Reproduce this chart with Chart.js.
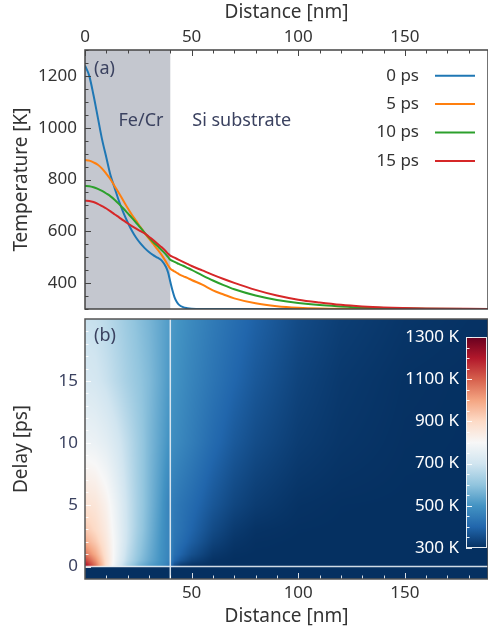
<!DOCTYPE html>
<html>
<head>
<meta charset="utf-8">
<title>Fe/Cr on Si - temperature</title>
<script src="https://cdn.jsdelivr.net/npm/chart.js@4.4.1/dist/chart.umd.min.js"></script>
<style>
  body { margin: 0; background: #fff; }
  #fig { position: relative; width: 488px; height: 635px; overflow: hidden; }
  #fig canvas { position: absolute; }
</style>
</head>
<body>
<div id="fig">
  <canvas id="profiles" width="488" height="312" style="left:0;top:0"></canvas>
  <canvas id="map" width="488" height="323" style="left:0;top:312px"></canvas>
  <canvas id="cbar" width="93" height="235" style="left:395px;top:325px"></canvas>
</div>
<script>
// ---- data ----
// (a) temperature profiles, distance in nm, temperature in K
const distance = [0, 2, 4, 6, 8, 10, 12, 14, 16, 18, 20, 22, 24, 26, 28, 30, 32, 34, 36, 38, 39,
  40, 41, 42, 43, 44, 46, 48, 50, 55, 60, 65, 70, 80, 90, 100, 110, 120, 130, 140, 160, 189];
const temp0ps = [1240, 1200, 1125, 1040, 955, 885, 815, 765, 715, 672, 635, 602, 575, 553, 535, 520, 508, 498, 487, 462, 440,
  405, 372, 345, 328, 317, 307, 303, 301, 300, 300, 300, 300, 300, 300, 300, 300, 300, 300, 300, 300, 300];
const temp5ps = [875, 873, 866, 857, 842, 822, 800, 773, 746, 718, 690, 664, 640, 616, 593, 572, 551, 530, 508, 482, 468,
  456, 450, 445, 440, 435, 427, 420, 412, 394, 372, 356, 341, 322, 311, 305, 302, 301, 300, 300, 300, 300];
const temp10ps = [775, 774, 770, 764, 756, 746, 735, 721, 705, 688, 670, 652, 633, 614, 594, 576, 559, 543, 527, 510, 500,
  490, 486, 482, 478, 474, 467, 459, 451, 430, 410, 392, 376, 352, 335, 323, 315, 310, 306, 304, 301, 300];
const temp15ps = [718, 717, 713, 706, 697, 688, 677, 665, 654, 642, 631, 620, 610, 601, 592, 579, 566, 552, 538, 522, 513,
  506, 502, 498, 494, 490, 482, 474, 466, 449, 432, 416, 401, 374, 352, 336, 325, 316, 310, 306, 302, 300];
const delayLabels = ['0 ps', '5 ps', '10 ps', '15 ps'];
const lineColors = ['#1f77b4', '#ff7f0e', '#2ca02c', '#d62728'];

// (b) temperature map, rows = delay (ps), columns = distance (nm)
const hmDist = [0, 5, 10, 15, 20, 25, 30, 35, 38, 40, 42, 45, 50, 60, 70, 80, 100, 120, 150, 189];
const hmDelay = [-1, -0.01, 0, 0.5, 1, 2, 3, 5, 10, 15, 20];
const heatBefore = [300, 300, 300, 300, 300, 300, 300, 300, 300, 300, 300, 300, 300, 300, 300, 300, 300, 300, 300, 300];
const heat0 = [1240, 1080, 885, 740, 635, 563, 520, 493, 466, 420, 347, 311, 301, 300, 300, 300, 300, 300, 300, 300];
const heat05 = [1150, 1030, 880, 760, 665, 595, 545, 503, 475, 458, 400, 370, 335, 305, 300, 300, 300, 300, 300, 300];
const heat1 = [1070, 985, 870, 768, 675, 605, 552, 505, 477, 462, 420, 395, 360, 315, 302, 300, 300, 300, 300, 300];
const heat2 = [985, 930, 855, 772, 688, 615, 560, 508, 478, 463, 432, 415, 385, 335, 310, 302, 300, 300, 300, 300];
const heat3 = [935, 895, 842, 768, 692, 624, 566, 512, 479, 462, 438, 425, 398, 350, 320, 306, 301, 300, 300, 300];
const heat5 = [875, 862, 822, 760, 690, 628, 572, 519, 482, 456, 445, 431, 412, 372, 341, 322, 305, 301, 300, 300];
const heat10 = [775, 766, 746, 713, 670, 623, 576, 535, 510, 490, 482, 471, 451, 410, 376, 352, 323, 310, 302, 300];
const heat15 = [718, 709, 688, 660, 631, 605, 579, 545, 522, 506, 498, 486, 466, 432, 401, 374, 336, 316, 304, 300];
const heat20 = [688, 682, 664, 640, 614, 590, 568, 542, 526, 514, 507, 497, 478, 446, 418, 392, 350, 326, 310, 303];
const heatRows = [heatBefore, heatBefore, heat0, heat05, heat1, heat2, heat3, heat5, heat10, heat15, heat20];

// ticks
const distTicks = [0, 50, 100, 150];
const tempTicks = [400, 600, 800, 1000, 1200];
const delayTicks = [0, 5, 10, 15];
const cbarTicks = [300, 500, 700, 900, 1100, 1300];

const filmEdge = 40;      // Fe/Cr | Si interface (nm)
const pumpDelay = 0;      // pump arrival (ps)

// RdBu_r
const rdbuR = ['#053061', '#2166ac', '#4393c3', '#92c5de', '#d1e5f0', '#f7f7f7',
  '#fddbc7', '#f4a582', '#d6604d', '#b2182b', '#67001f'];
const rdbuRgb = rdbuR.map(h => [1, 3, 5].map(i => parseInt(h.substr(i, 2), 16)));

Chart.defaults.font.family = "'Noto Sans', sans-serif";
Chart.defaults.color = '#333';
const inkDark = '#333';
const inkSlate = '#3b4260';

function range(from, to, step) {
  const out = [];
  for (let v = from; v <= to + 1e-9; v += step) out.push(Math.round(v * 1000) / 1000);
  return out;
}

// keep the plot area exactly where the axis boxes say (no label overflow padding)
function noOverflow(s) {
  s.paddingTop = 0; s.paddingBottom = 0; s.paddingLeft = 0; s.paddingRight = 0;
}

function drawTicks(chart, scale, edge, values, majors, color) {
  const a = chart.chartArea, ctx = chart.ctx;
  ctx.save();
  ctx.strokeStyle = color;
  ctx.lineWidth = 1;
  values.forEach(v => {
    const p = Math.round(scale.getPixelForValue(v)) + 0.5;
    const len = majors.includes(v) ? 6 : 3.5;
    ctx.beginPath();
    if (edge === 'top') { ctx.moveTo(p, a.top); ctx.lineTo(p, a.top + len); }
    if (edge === 'bottom') { ctx.moveTo(p, a.bottom); ctx.lineTo(p, a.bottom - len); }
    if (edge === 'left') { ctx.moveTo(a.left, p); ctx.lineTo(a.left + len, p); }
    ctx.stroke();
  });
  ctx.restore();
}

function frame(chart, color) {
  const a = chart.chartArea, ctx = chart.ctx;
  ctx.save();
  ctx.strokeStyle = color;
  ctx.lineWidth = 1.5;
  ctx.strokeRect(a.left, a.top, a.right - a.left, a.bottom - a.top);
  ctx.restore();
}

function locate(arr, v) {
  if (v <= arr[0]) return [0, 0];
  const n = arr.length;
  if (v >= arr[n - 1]) return [n - 2, 1];
  let k = 0;
  while (arr[k + 1] < v) k++;
  return [k, (v - arr[k]) / (arr[k + 1] - arr[k])];
}

function colourOf(T) {
  let f = Math.min(Math.max((T - 300) / 1000, 0), 1) * 10;
  const k = Math.min(Math.floor(f), 9);
  f -= k;
  const c0 = rdbuRgb[k], c1 = rdbuRgb[k + 1];
  return [0, 1, 2].map(i => c0[i] + (c1[i] - c0[i]) * f);
}

// ---------- (a) profiles ----------
const profileDecor = {
  id: 'profileDecor',
  beforeDatasetsDraw(chart) {
    const {ctx, chartArea: a, scales: {x}} = chart;
    ctx.save();
    ctx.fillStyle = '#c4c7cf';
    const x0 = x.getPixelForValue(0), x1 = x.getPixelForValue(filmEdge);
    ctx.fillRect(x0, a.top, x1 - x0, a.bottom - a.top);
    ctx.restore();
  },
  afterDatasetsDraw(chart) {
    const {ctx, chartArea: a, scales: {x, y}} = chart;
    frame(chart, '#444');
    drawTicks(chart, x, 'top', range(0, 180, 10), distTicks, '#444');
    drawTicks(chart, y, 'left', range(300, 1300, 50), tempTicks, '#444');

    ctx.save();
    ctx.fillStyle = inkSlate;
    ctx.font = "18px 'Noto Sans'";
    ctx.textBaseline = 'middle';
    ctx.textAlign = 'left';
    ctx.fillText('(a)', a.left + 9, a.top + 19);
    ctx.textAlign = 'center';
    ctx.fillText('Fe/Cr', a.left + 56, a.top + 71);
    ctx.textAlign = 'left';
    ctx.fillText('Si substrate', x.getPixelForValue(filmEdge) + 22, a.top + 71);

    // legend: label on the left, line sample on the right
    ctx.font = "17px 'Noto Sans'";
    ctx.textAlign = 'right';
    chart.data.datasets.forEach((ds, i) => {
      const yy = a.top + 25.7 + i * 28.4;
      ctx.fillStyle = inkDark;
      ctx.fillText(ds.label, a.right - 69, yy);
      ctx.strokeStyle = ds.borderColor;
      ctx.lineWidth = 2;
      ctx.beginPath();
      ctx.moveTo(a.right - 53, yy);
      ctx.lineTo(a.right - 13, yy);
      ctx.stroke();
    });
    ctx.restore();
  }
};

const profiles = [temp0ps, temp5ps, temp10ps, temp15ps];

new Chart(document.getElementById('profiles'), {
  type: 'line',
  data: {
    datasets: profiles.map((temps, i) => ({
      label: delayLabels[i],
      data: distance.map((d, j) => ({x: d, y: temps[j]})),
      borderColor: lineColors[i],
      borderWidth: 2,
      pointRadius: 0,
      cubicInterpolationMode: 'monotone',
      order: profiles.length - i
    }))
  },
  options: {
    responsive: false,
    animation: false,
    events: [],
    layout: {padding: {left: 0, right: 0, top: 0, bottom: 3}},
    plugins: {legend: {display: false}, tooltip: {enabled: false}},
    scales: {
      x: {
        type: 'linear', position: 'top', min: 0, max: 189,
        afterBuildTicks: s => { s.ticks = distTicks.map(v => ({value: v})); },
        ticks: {color: inkDark, font: {size: 17}, padding: 3, callback: v => String(v)},
        grid: {display: false, drawTicks: false},
        border: {display: false},
        title: {display: true, text: 'Distance [nm]', color: inkDark, font: {size: 19}, padding: {top: 1, bottom: 0}},
        afterFit: s => { s.height = 50; noOverflow(s); }
      },
      y: {
        type: 'linear', min: 300, max: 1300,
        afterBuildTicks: s => { s.ticks = tempTicks.map(v => ({value: v})); },
        ticks: {color: inkDark, font: {size: 17}, padding: 8, callback: v => String(v)},
        grid: {display: false, drawTicks: false},
        border: {display: false},
        title: {display: true, text: 'Temperature [K]', color: inkDark, font: {size: 19}, padding: {top: 10, bottom: 0}},
        afterFit: s => { s.width = 85; noOverflow(s); }
      }
    }
  },
  plugins: [profileDecor]
});

// ---------- (b) map ----------
const heatmap = {
  id: 'heatmap',
  beforeDatasetsDraw(chart) {
    const {ctx, chartArea: a, scales: {x, y}} = chart;
    const w = Math.round(a.right - a.left), h = Math.round(a.bottom - a.top);
    const img = ctx.createImageData(w, h);
    const cols = [];
    for (let i = 0; i < w; i++) cols.push(locate(hmDist, x.getValueForPixel(a.left + i + 0.5)));
    for (let j = 0; j < h; j++) {
      const [r, fr] = locate(hmDelay, y.getValueForPixel(a.top + j + 0.5));
      const lo = heatRows[r], hi = heatRows[r + 1];
      for (let i = 0; i < w; i++) {
        const [c, fc] = cols[i];
        const tLo = lo[c] + (lo[c + 1] - lo[c]) * fc;
        const tHi = hi[c] + (hi[c + 1] - hi[c]) * fc;
        const rgb = colourOf(tLo + (tHi - tLo) * fr);
        const o = (j * w + i) * 4;
        img.data[o] = rgb[0]; img.data[o + 1] = rgb[1]; img.data[o + 2] = rgb[2]; img.data[o + 3] = 255;
      }
    }
    const off = document.createElement('canvas');
    off.width = w; off.height = h;
    off.getContext('2d').putImageData(img, 0, 0);
    ctx.drawImage(off, a.left, a.top);
  },
  afterDatasetsDraw(chart) {
    const {ctx, chartArea: a, scales: {x, y}} = chart;
    drawTicks(chart, x, 'bottom', range(10, 180, 10), distTicks, 'rgba(255,255,255,0.85)');
    drawTicks(chart, y, 'left', range(0, 19, 1), delayTicks, 'rgba(255,255,255,0.85)');
    frame(chart, '#555');
    ctx.save();
    ctx.fillStyle = inkSlate;
    ctx.font = "18px 'Noto Sans'";
    ctx.textBaseline = 'middle';
    ctx.fillText('(b)', a.left + 9, a.top + 17);
    ctx.restore();
  }
};

const guideStyle = {borderColor: 'rgba(232,238,244,0.9)', borderWidth: 1.5, pointRadius: 0};

new Chart(document.getElementById('map'), {
  type: 'line',
  data: {
    datasets: [
      {data: [{x: filmEdge, y: -1}, {x: filmEdge, y: 20}], ...guideStyle},
      {data: [{x: 0, y: pumpDelay}, {x: 189, y: pumpDelay}], ...guideStyle}
    ]
  },
  options: {
    responsive: false,
    animation: false,
    events: [],
    layout: {padding: {left: 0, right: 0, top: 7, bottom: 0}},
    plugins: {legend: {display: false}, tooltip: {enabled: false}},
    scales: {
      x: {
        type: 'linear', position: 'bottom', min: 0, max: 189,
        afterBuildTicks: s => { s.ticks = distTicks.filter(v => v > 0).map(v => ({value: v})); },
        ticks: {color: inkDark, font: {size: 17}, padding: 4, callback: v => String(v)},
        grid: {display: false, drawTicks: false},
        border: {display: false},
        title: {display: true, text: 'Distance [nm]', color: inkDark, font: {size: 19}, padding: {top: 0, bottom: 7}},
        afterFit: s => { s.height = 56; noOverflow(s); }
      },
      y: {
        type: 'linear', min: -1, max: 20,
        afterBuildTicks: s => { s.ticks = delayTicks.map(v => ({value: v})); },
        ticks: {color: inkSlate, font: {size: 17}, padding: 7, callback: v => String(v)},
        grid: {display: false, drawTicks: false},
        border: {display: false},
        title: {display: true, text: 'Delay [ps]', color: inkDark, font: {size: 19}, padding: {top: 10, bottom: 0}},
        afterFit: s => { s.width = 85; noOverflow(s); }
      }
    }
  },
  plugins: [heatmap]
});

// ---------- colour bar ----------
const colourBar = {
  id: 'colourBar',
  beforeDatasetsDraw(chart) {
    const {ctx, chartArea: a, scales: {y}} = chart;
    const yLo = y.getPixelForValue(300), yHi = y.getPixelForValue(1300);
    const g = ctx.createLinearGradient(0, yLo, 0, yHi);
    rdbuR.forEach((c, i) => g.addColorStop(i / (rdbuR.length - 1), c));
    ctx.save();
    ctx.fillStyle = g;
    ctx.fillRect(a.left, yHi, a.right - a.left, yLo - yHi);
    ctx.restore();
    drawTicks(chart, y, 'left', range(300, 1300, 50), cbarTicks, 'rgba(255,255,255,0.9)');
    ctx.save();
    ctx.strokeStyle = 'rgba(240,244,248,0.95)';
    ctx.lineWidth = 1;
    ctx.strokeRect(a.left + 0.5, yHi + 0.5, a.right - a.left - 1, yLo - yHi - 1);
    ctx.restore();
  }
};

new Chart(document.getElementById('cbar'), {
  type: 'line',
  data: {datasets: []},
  options: {
    responsive: false,
    animation: false,
    events: [],
    layout: {padding: {left: 0, right: 1, top: 12, bottom: 12}},
    plugins: {legend: {display: false}, tooltip: {enabled: false}},
    scales: {
      x: {type: 'linear', display: false, min: 0, max: 1},
      y: {
        type: 'linear', min: 300, max: 1300,
        afterBuildTicks: s => { s.ticks = cbarTicks.map(v => ({value: v})); },
        ticks: {color: '#fff', font: {size: 17}, padding: 7, callback: v => v + ' K'},
        grid: {display: false, drawTicks: false},
        border: {display: false},
        afterFit: s => { s.width = 71; noOverflow(s); }
      }
    }
  },
  plugins: [colourBar]
});
</script>
</body>
</html>
